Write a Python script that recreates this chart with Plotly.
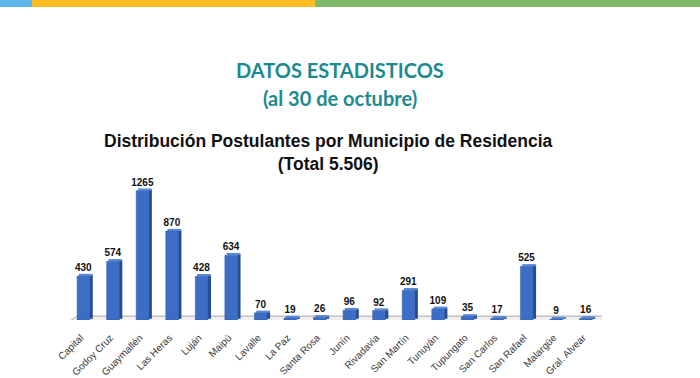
import plotly.graph_objects as go

municipios = ["Capital", "Godoy Cruz", "Guaymallén", "Las Heras", "Luján", "Maipú",
              "Lavalle", "La Paz", "Santa Rosa", "Junín", "Rivadavia", "San Martín",
              "Tunuyán", "Tupungato", "San Carlos", "San Rafael", "Malargüe", "Gral. Alvear"]
postulantes = [430, 574, 1265, 870, 428, 634, 70, 19, 26, 96, 92, 291, 109, 35, 17, 525, 9, 16]

xs = list(range(len(municipios)))

W, H = 700, 378
L, R, T, B = 70, 98, 182, 58
plot_h = H - T - B

def py(pix):
    return (H - B - pix) / plot_h

fig = go.Figure()

# floor
fig.add_shape(type="path", xref="x", yref="y",
              path="M -0.6,-29 L 17.36,-29 L 17.67,38 L -0.26,38 Z",
              fillcolor="#f0f0f0", line=dict(color="#a8a8a8", width=1), layer="below")

# side face
fig.add_trace(go.Bar(x=xs, y=postulantes, base=12, width=0.11, offset=0.16,
                     marker=dict(color="#274b8e", line=dict(width=0)),
                     hoverinfo="skip", showlegend=False))
# top face
fig.add_trace(go.Bar(x=xs, y=[22] * len(xs), base=postulantes, width=0.46, offset=-0.2,
                     marker=dict(color="#5d8ad6", line=dict(width=0)),
                     hoverinfo="skip", showlegend=False))
# front face
fig.add_trace(go.Bar(x=xs, y=postulantes, width=0.43, offset=-0.26,
                     marker=dict(color="#3d6ec6", line=dict(color="#2f5aa8", width=0.5)),
                     text=["<b>%d</b>" % v for v in postulantes], textposition="outside",
                     textfont=dict(family="Liberation Sans", size=10, color="#111111"),
                     constraintext="none",
                     cliponaxis=False, showlegend=False))

fig.update_layout(
    width=W, height=H, margin=dict(l=L, r=R, t=T, b=B, autoexpand=False),
    paper_bgcolor="white", plot_bgcolor="rgba(0,0,0,0)",
    barmode="overlay", uniformtext=dict(mode="show", minsize=10),
    xaxis=dict(range=[-0.5, 17.5], tickvals=xs, ticktext=municipios, tickangle=-45,
               showgrid=False, zeroline=False, showline=False, ticks="",
               automargin=False, ticklabelstandoff=9, ticklabelshift=-4,
               tickfont=dict(family="Liberation Sans", size=10, color="#3a3a3a")),
    yaxis=dict(range=[0, 1350], visible=False, automargin=False),
)

fig.add_annotation(xref="paper", yref="paper", x=(340 - L) / (W - L - R), y=py(70),
                   text="<b>DATOS ESTADISTICOS</b>", showarrow=False, yanchor="middle",
                   font=dict(family="Lato", size=20, color="#1d8a8f"))
fig.add_annotation(xref="paper", yref="paper", x=(340 - L) / (W - L - R), y=py(98),
                   text="<b>(al 30 de octubre)</b>", showarrow=False, yanchor="middle",
                   font=dict(family="Lato", size=20, color="#1d8a8f"))
fig.add_annotation(xref="paper", yref="paper", x=(328 - L) / (W - L - R), y=py(152),
                   text="<b>Distribución Postulantes por Municipio de Residencia<br>(Total 5.506)</b>",
                   showarrow=False, yanchor="middle",
                   font=dict(family="Liberation Sans", size=17.5, color="#111111"))

# top stripe
for x0, x1, c in [(0, 32, "#5bb8e8"), (32, 315, "#fbbd21"), (315, 700, "#7fba6a")]:
    fig.add_shape(type="rect", xref="paper", yref="paper",
                  x0=(x0 - L) / (W - L - R), x1=(x1 - L) / (W - L - R),
                  y0=py(7), y1=py(0), fillcolor=c, line=dict(width=0))

fig.write_html("out.html", config={"displayModeBar": False},
               post_script="document.body.style.margin='0';document.body.style.overflow='hidden';")
